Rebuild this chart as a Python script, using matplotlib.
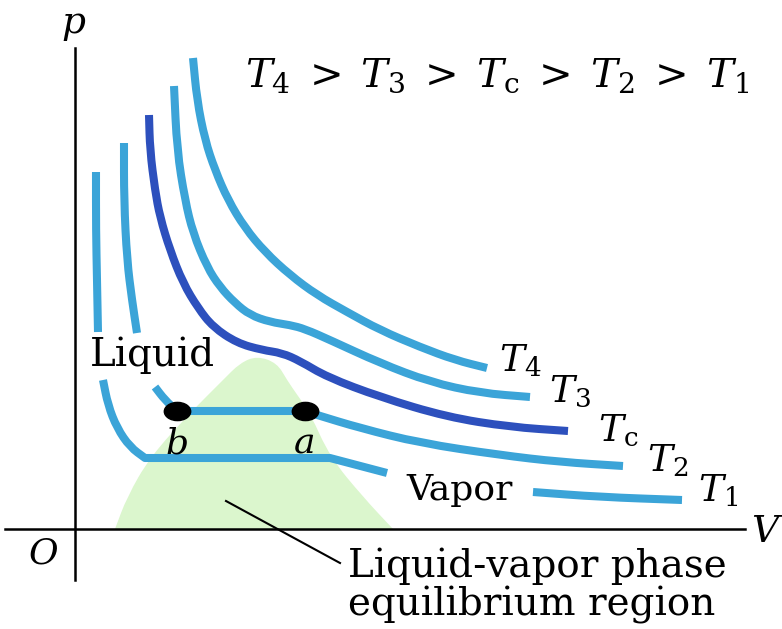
import numpy as np
import matplotlib.pyplot as plt
from matplotlib.path import Path
from matplotlib.patches import PathPatch
from matplotlib.transforms import Affine2D

plt.rcParams['mathtext.fontset'] = 'dejavuserif'
plt.rcParams['font.family'] = 'DejaVu Serif'

# isotherms on the p-V plane (arbitrary units, origin at O)
T4_V = [118, 122, 130, 140, 153, 170, 190, 215, 242, 272, 305, 345, 380, 412]
T4_p = [471, 429, 389, 359, 329, 301, 277, 254, 234, 217, 199, 182, 169, 161]

T3_V = [99, 102, 110, 118, 132, 145, 160, 175, 195, 215, 230, 255, 305, 355, 405, 455]
T3_p = [443, 379, 329, 296, 262, 242, 226, 214, 207, 204, 200, 189, 166, 147, 136, 132]

Tc_V = [74, 75, 80, 85, 95, 108, 123, 138, 162, 187, 207, 225, 252, 305, 372, 435, 493]
Tc_p = [414, 379, 339, 312, 279, 246, 221, 202, 186, 179, 176, 168, 152, 132, 112, 102, 98]

# T2 and T1 are broken where the labels sit
T2_liq_V = [49, 49, 52, 57, 62]
T2_liq_p = [386, 329, 269, 229, 196]
T2_V = [80, 90, 102, 230, 242, 285, 345, 425, 485, 548]
T2_p = [142, 129, 118, 118, 114, 101, 86, 74, 67, 63]

T1_liq_V = [21, 21, 22, 23]
T1_liq_p = [357, 299, 249, 197]
T1_V = [28, 33, 42, 55, 70, 255, 312]
T1_p = [149, 124, 101, 82, 71, 71, 56]
T1_vap_V = [458, 525, 607]
T1_vap_p = [37, 32, 29]

# liquid-vapor coexistence dome
dome_V = [40, 52, 75, 115, 148, 165, 182, 202, 212, 223, 235, 255, 288, 318]
dome_p = [0, 32, 72, 116, 149, 166, 173, 166, 149, 133, 116, 72, 32, 0]

# states a and b on the T2 tie line
pts_V = [102, 230]
pts_p = [118, 118]
pts_lab = ['b', 'a']

curve_labels = [r'$T_4$', r'$T_3$', r'$T_{\rm c}$', r'$T_2$', r'$T_1$']
curve_lab_V = [445, 495, 543, 593, 643]
curve_lab_p = [168, 137, 98, 68, 38]

# pointer from the dome to its caption
lead_V = [151, 265]
lead_p = [28, -34]

light = '#3ba4d8'
dark = '#2d50bd'


def smooth(xs, ys, corners=()):
    # quadratic smoothing through segment midpoints; corners are kept sharp
    pts = np.column_stack([xs, ys]).astype(float)
    cuts = [0] + sorted(corners) + [len(pts) - 1]
    verts, codes = [tuple(pts[0])], [Path.MOVETO]
    for a, b in zip(cuts[:-1], cuts[1:]):
        seg = pts[a:b + 1]
        if len(seg) > 2:
            verts.append(tuple((seg[0] + seg[1]) / 2))
            codes.append(Path.LINETO)
            for i in range(1, len(seg) - 1):
                verts += [tuple(seg[i]), tuple((seg[i] + seg[i + 1]) / 2)]
                codes += [Path.CURVE3, Path.CURVE3]
        verts.append(tuple(seg[-1]))
        codes.append(Path.LINETO)
    return Path(verts, codes)


fig = plt.figure(figsize=(7.82, 6.29), dpi=100)
ax = fig.add_axes([0, 0, 1, 1])
ax.set_xlim(-75, 707)
ax.set_ylim(-100, 529)
ax.axis('off')

ax.add_patch(PathPatch(smooth(dome_V, dome_p), facecolor='#dbf6cd',
                       edgecolor='none', zorder=1))

curves = [
    (T4_V, T4_p, light, ()),
    (T3_V, T3_p, light, ()),
    (Tc_V, Tc_p, dark, ()),
    (T2_liq_V, T2_liq_p, light, ()),
    (T2_V, T2_p, light, (2, 3)),
    (T1_liq_V, T1_liq_p, light, ()),
    (T1_V, T1_p, light, (4, 5)),
    (T1_vap_V, T1_vap_p, light, ()),
]
for xs, ys, col, cn in curves:
    ax.add_patch(PathPatch(smooth(xs, ys, cn), facecolor='none', edgecolor=col,
                           lw=5.8, capstyle='butt', joinstyle='round', zorder=3))

# slightly wide dots
circ = Path.unit_circle()
oval = Path(Affine2D().scale(1.45, 1.0).transform(circ.vertices), circ.codes)
ax.plot(pts_V, pts_p, ls='none', marker=oval, ms=19, color='black', zorder=4)
for v, p, s in zip(pts_V, pts_p, pts_lab):
    ax.text(v, p - 32, s, fontsize=26, style='italic', ha='center', va='center')

# coordinate axes
ax.plot([0, 0], [-51, 481], color='black', lw=1.8, zorder=2)
ax.plot([-70, 670], [0, 0], color='black', lw=1.8, zorder=2)
ax.text(-2, 506, 'p', fontsize=27, style='italic', ha='center', va='center')
ax.text(690, -3, 'V', fontsize=27, style='italic', ha='center', va='center')
ax.text(-32, -24, 'O', fontsize=26, style='italic', ha='center', va='center')

for s, v, p in zip(curve_labels, curve_lab_V, curve_lab_p):
    ax.text(v, p, s, fontsize=27, ha='center', va='center')

ax.text(422, 453, r'$T_4\;>\;T_3\;>\;T_{\rm c}\;>\;T_2\;>\;T_1$', fontsize=29,
        ha='center', va='center')

ax.text(77, 174, 'Liquid', fontsize=28, ha='center', va='center')
ax.text(385, 39, 'Vapor', fontsize=26, ha='center', va='center')

ax.plot(lead_V, lead_p, color='black', lw=1.5, zorder=2)
ax.text(273, -57, 'Liquid-vapor phase\nequilibrium region', fontsize=28,
        ha='left', va='center', linespacing=1.05)

fig.savefig('out.png', dpi=100)
